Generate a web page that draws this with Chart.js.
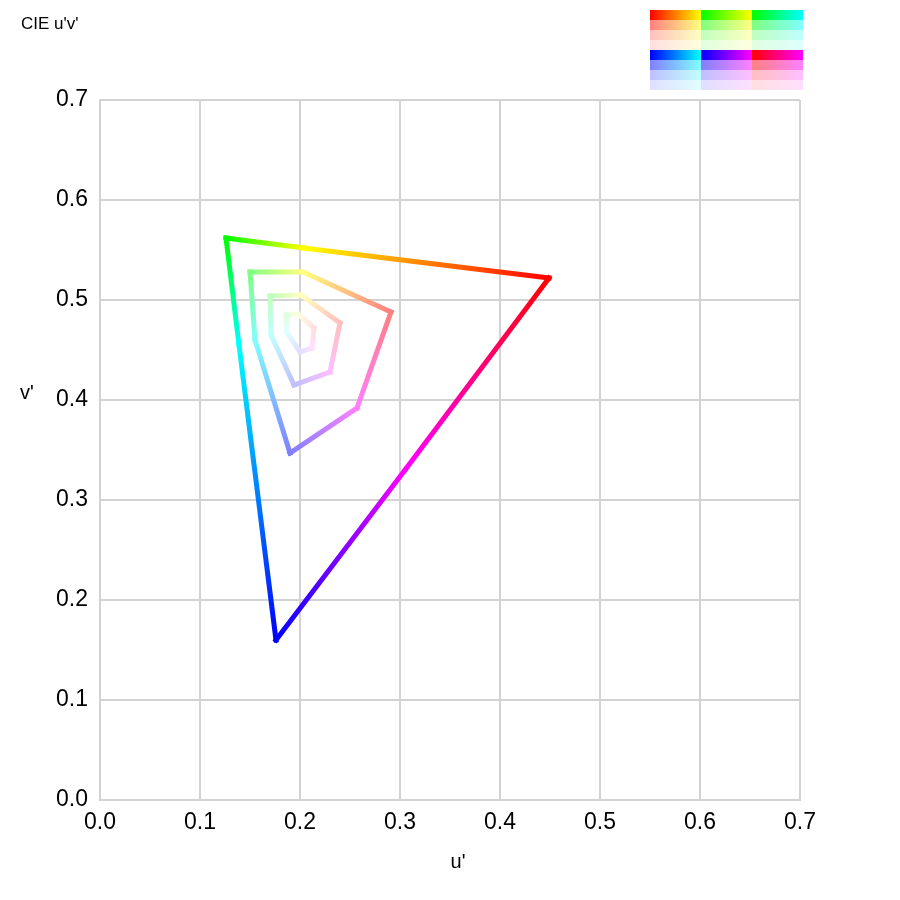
<!DOCTYPE html>
<html>
<head>
<meta charset="utf-8">
<title>CIE u'v'</title>
<script src="https://cdn.jsdelivr.net/npm/chart.js@4.4.1/dist/chart.umd.min.js"></script>
<style>
  html, body { margin: 0; padding: 0; background: #ffffff; }
  #wrap { width: 900px; height: 900px; position: relative; }
</style>
</head>
<body>
<div id="wrap"><canvas id="uvChart"></canvas></div>
<script>
// vertices go R, Y, G, C, B, M and back to R
const outerU   = [0.449, 0.204, 0.126, 0.139, 0.176, 0.305, 0.449];
const outerV   = [0.522, 0.552, 0.562, 0.455, 0.160, 0.330, 0.522];
const halfU    = [0.291, 0.203, 0.150, 0.155, 0.190, 0.257, 0.291];
const halfV    = [0.488, 0.528, 0.528, 0.460, 0.347, 0.392, 0.488];
const quarterU = [0.240, 0.201, 0.170, 0.171, 0.194, 0.230, 0.240];
const quarterV = [0.477, 0.505, 0.504, 0.465, 0.415, 0.428, 0.477];
const eighthU  = [0.214, 0.198, 0.186, 0.1865, 0.200, 0.212, 0.214];
const eighthV  = [0.472, 0.486, 0.485, 0.468, 0.448, 0.452, 0.472];

const tickLabels = ['0.0', '0.1', '0.2', '0.3', '0.4', '0.5', '0.6', '0.7'];

// colours: pure hues at each vertex, and how much white each ring is mixed with
const vertexHues = [[255,0,0], [255,255,0], [0,255,0], [0,255,255], [0,0,255], [255,0,255], [255,0,0]];
const whiteMix = [0, 0.5, 0.75, 0.875];

// swatch strip in the top right corner (left colour -> right colour)
const swatchTop    = [[[255,0,0],[255,255,0]], [[0,255,0],[255,255,0]], [[0,255,0],[0,255,255]]];
const swatchBottom = [[[0,0,255],[0,255,255]], [[0,0,255],[255,0,255]], [[255,0,0],[255,0,255]]];

const FONT = "'Liberation Sans', Arial, sans-serif";

function tint(rgb, w) {
    const c = rgb.map(function(v) { return Math.round(v + (255 - v) * w); });
    return 'rgb(' + c[0] + ',' + c[1] + ',' + c[2] + ')';
}

function toPoints(us, vs) {
    return us.map(function(u, i) { return {x: u, y: vs[i]}; });
}

function ringDataset(us, vs, level) {
    const colors = vertexHues.map(function(h) { return tint(h, whiteMix[level]); });
    return {
        data: toPoints(us, vs),
        showLine: true,
        borderWidth: 5,
        borderCapStyle: 'square',
        borderJoinStyle: 'miter',
        pointRadius: 0,
        pointHoverRadius: 0,
        borderColor: colors[0],
        segment: {
            // each edge fades from one vertex colour into the next
            borderColor: function(ctx) {
                const p0 = ctx.p0, p1 = ctx.p1;
                const g = ctx.chart.ctx.createLinearGradient(p0.x, p0.y, p1.x, p1.y);
                g.addColorStop(0, colors[ctx.p0DataIndex]);
                g.addColorStop(1, colors[ctx.p1DataIndex]);
                return g;
            }
        }
    };
}

const decorPlugin = {
    id: 'uv_decor',

    drawSwatches: function(ctx) {
        const x0 = 650, y0 = 10, w = 51, h = 10;
        const groups = [swatchTop, swatchBottom];
        groups.forEach(function(group, gi) {
            group.forEach(function(pair, col) {
                whiteMix.forEach(function(mix, row) {
                    const x = x0 + col * w;
                    const y = y0 + (gi * whiteMix.length + row) * h;
                    const g = ctx.createLinearGradient(x, 0, x + w, 0);
                    g.addColorStop(0, tint(pair[0], mix));
                    g.addColorStop(1, tint(pair[1], mix));
                    ctx.fillStyle = g;
                    ctx.fillRect(x, y, w, h);
                });
            });
        });
    },

    afterDraw: function(chart) {
        const ctx = chart.ctx;
        ctx.save();
        this.drawSwatches(ctx);

        ctx.fillStyle = '#000000';
        ctx.textBaseline = 'alphabetic';
        ctx.textAlign = 'left';
        ctx.font = '17px ' + FONT;
        ctx.fillText("CIE u'v'", 21, 29);

        ctx.font = '20px ' + FONT;
        ctx.textAlign = 'center';
        ctx.fillText("u'", 458, 868);
        ctx.textAlign = 'left';
        ctx.fillText("v'", 20, 399);
        ctx.restore();
    }
};

Chart.register(decorPlugin);

const axisOpts = {
    type: 'linear',
    min: 0,
    max: 0.7,
    grid: { color: '#d3d3d3', lineWidth: 2, drawTicks: false },
    border: { color: '#d3d3d3', width: 2 },
    ticks: {
        stepSize: 0.1,
        color: '#000000',
        font: { family: FONT, size: 23 },
        callback: function(value) {
            return tickLabels[Math.round(value * 10)];
        }
    }
};

const uvChart = new Chart(document.getElementById('uvChart'), {
    type: 'scatter',
    data: {
        datasets: [
            ringDataset(outerU, outerV, 0),
            ringDataset(halfU, halfV, 1),
            ringDataset(quarterU, quarterV, 2),
            ringDataset(eighthU, eighthV, 3)
        ]
    },
    options: {
        responsive: true,
        maintainAspectRatio: false,
        animation: false,
        layout: { padding: { top: 100, right: 100, left: 0, bottom: 0 } },
        scales: {
            x: Object.assign({}, axisOpts, {
                ticks: Object.assign({}, axisOpts.ticks, { padding: 9, maxRotation: 0 }),
                afterFit: function(scale) { scale.height = 100; }
            }),
            y: Object.assign({}, axisOpts, {
                ticks: Object.assign({}, axisOpts.ticks, { padding: 12 }),
                afterFit: function(scale) { scale.width = 100; }
            })
        },
        plugins: {
            legend: { display: false },
            tooltip: { enabled: false },
            title: { display: false }
        }
    }
});
</script>
</body>
</html>
